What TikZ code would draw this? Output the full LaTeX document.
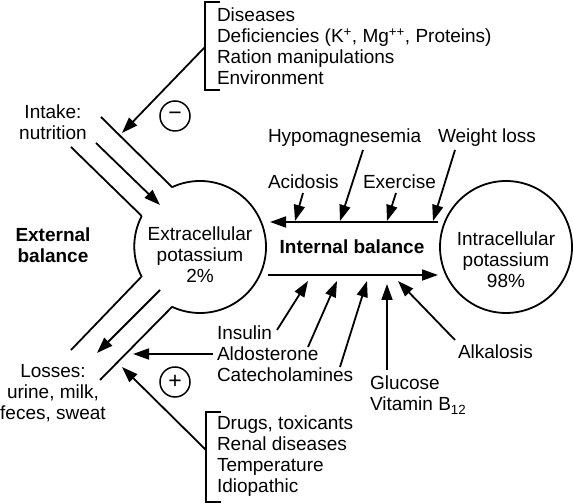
\documentclass[tikz,border=0pt]{standalone}
\usepackage{fontspec}
\setmainfont{Liberation Sans}
\usetikzlibrary{arrows.meta}

\begin{document}
\begin{tikzpicture}[x=1pt, y=1pt, line width=1.8pt,
    every node/.style={inner sep=0pt, outer sep=0pt, font=\fontsize{19}{21}\selectfont},
    bold/.style={font=\fontsize{19}{21}\selectfont\bfseries},
    pool/.style={circle, minimum size=132pt},
    sign/.style={circle, draw, line width=1.5pt, minimum size=30pt, font=\fontsize{23}{23}\selectfont},
    arr/.style={-{Triangle[length=16pt,width=11pt]}}]

      \useasboundingbox (0,0) rectangle (573,503);

      % Potassium pools
      \node[pool] (ecf) at (200,256) {};
      \node[pool, draw] (icf) at (506,256) {};
      \node[align=center] (ecftxt) at (200,248) {Extracellular\\potassium\\2\%};
      \node[align=center] (icftxt) at (506,243) {Intracellular\\potassium\\98\%};

      % Labels
      \node[bold, align=center] (extbal) at (53,258) {External\\balance};
      \node[bold] (intbal) at (352,256) {Internal balance};
      \node[align=center] (intake) at (53,381) {Intake:\\nutrition};
      \node[align=center] (losses) at (53,110) {Losses:\\urine, milk,\\feces, sweat};
      \node[anchor=west] (hypo) at (268,365) {Hypomagnesemia};
      \node[anchor=west] (wloss) at (438,365) {Weight loss};
      \node[anchor=west] (acid) at (268,321) {Acidosis};
      \node[anchor=west] (exer) at (363,321) {Exercise};
      \node[anchor=west, align=left] (hormones) at (217,149) {Insulin\\Aldosterone\\Catecholamines};
      \node[anchor=west, align=left] (glucose) at (370,108) {Glucose\\Vitamin B\textsubscript{12}};
      \node[anchor=west] (alkal) at (458,151) {Alkalosis};
      \node[anchor=west, align=left] (intakefx) at (217,457)
        {Diseases\\Deficiencies (K\textsuperscript{+}, Mg\textsuperscript{++}, Proteins)\\Ration manipulations\\Environment};
      \node[anchor=west, align=left] (lossfx) at (217,47)
        {Drugs, toxicants\\Renal diseases\\Temperature\\Idiopathic};
      \node[sign] (minus) at (175,387) {−};
      \node[sign] (plus) at (175,121) {+};

      % Extracellular pool wall with the two channels
      \draw (ecf.115) arc[start angle=115, end angle=-115, radius=66];
      \draw (ecf.152.5) arc[start angle=152.5, end angle=207.5, radius=66];
      \coordinate (inUp) at (101,386);
      \coordinate (inLo) at (71,356);
      \coordinate (outUp) at (71,153);
      \coordinate (outLo) at (100,123);
      \foreach \i/\j in {inUp/ecf.115, inLo/ecf.152.5, outUp/ecf.207.5, outLo/ecf.245}
        \draw (\i) -- (\j);

      % Flows through the channels
      \coordinate (inT) at (96,360);   \coordinate (inH) at (160,298);
      \coordinate (outT) at (160,213); \coordinate (outH) at (97,150);
      \draw[arr] (inT) -- (inH);
      \draw[arr] (outT) -- (outH);

      % Brackets and their effects
      \draw (220,501) -- (205,501) -- (205,413) -- (220,413);
      \draw (221,91) -- (206,91) -- (206,1) -- (221,1);
      \coordinate (brkA) at (205,456); \coordinate (tipA) at (122,370);
      \coordinate (brkB) at (206,53);  \coordinate (tipB) at (122,136);
      \coordinate (aldoL) at (133,149);
      \draw[arr] (brkA) -- (tipA);
      \draw[arr] (brkB) -- (tipB);
      \draw[arr] ([xshift=-4pt]hormones.west) -- (aldoL);

      % Internal balance
      \coordinate (outS) at (438,281); \coordinate (outE) at (270,281);
      \coordinate (inS) at (268,228);  \coordinate (inE) at (438,228);
      \draw[arr] (outS) -- (outE);
      \draw[arr] (inS) -- (inE);

      % Factors moving potassium out of cells
      \coordinate (acidT) at (303,310);  \coordinate (acidH) at (295,282);
      \coordinate (hypoT) at (363,353);  \coordinate (hypoH) at (340,282);
      \coordinate (exerT) at (396,310);  \coordinate (exerH) at (387,282);
      \coordinate (wlossT) at (455,353); \coordinate (wlossH) at (433,282);
      \foreach \i/\j in {acidT/acidH, hypoT/hypoH, exerT/exerH, wlossT/wlossH}
        \draw[arr] (\i) -- (\j);

      % Factors moving potassium into cells
      \coordinate (insT) at (277,173);  \coordinate (insH) at (308,222);
      \coordinate (aldoT) at (308,156); \coordinate (aldoH) at (337,222);
      \coordinate (catT) at (340,136);  \coordinate (catH) at (367,222);
      \coordinate (glucT) at (387,133); \coordinate (glucH) at (387,219);
      \coordinate (alkT) at (455,163);  \coordinate (alkH) at (398,222);
      \foreach \i/\j in {insT/insH, aldoT/aldoH, catT/catH, glucT/glucH, alkT/alkH}
        \draw[arr] (\i) -- (\j);

    \end{tikzpicture}
\end{document}
